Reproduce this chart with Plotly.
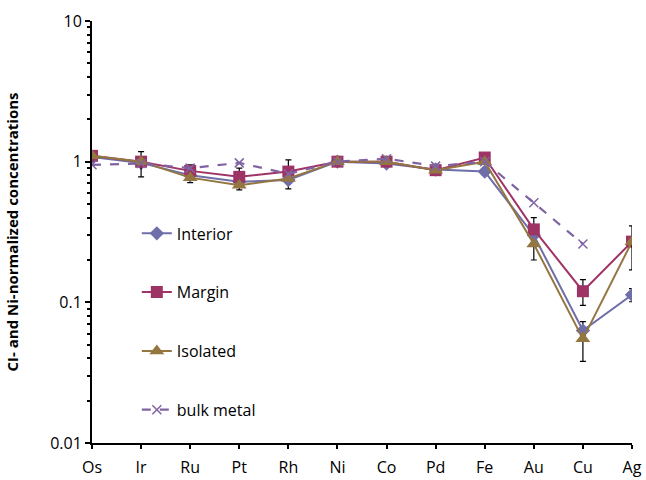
import plotly.graph_objects as go

elements = ["Os", "Ir", "Ru", "Pt", "Rh", "Ni", "Co", "Pd", "Fe", "Au", "Cu", "Ag"]

interior = [1.08, 0.98, 0.80, 0.72, 0.74, 1.00, 0.97, 0.88, 0.85, 0.30, 0.063, 0.113]
interior_err_plus = [0.10, 0, 0.15, 0, 0.29, 0, 0, 0, 0, 0, 0.010, 0.012]
interior_err_minus = [0.08, 0, 0.09, 0, 0.10, 0, 0, 0, 0, 0, 0.005, 0.012]

margin = [1.10, 1.00, 0.86, 0.78, 0.85, 1.00, 1.00, 0.87, 1.07, 0.33, 0.120, 0.27]
margin_err_plus = [0, 0.18, 0, 0.12, 0, 0, 0, 0, 0, 0.07, 0.025, 0]
margin_err_minus = [0, 0.22, 0, 0, 0, 0, 0, 0, 0, 0, 0.025, 0]

isolated = [1.10, 1.00, 0.77, 0.68, 0.76, 1.00, 1.00, 0.87, 1.00, 0.26, 0.055, 0.27]
isolated_err_plus = [0, 0, 0, 0, 0, 0, 0, 0, 0, 0, 0, 0.08]
isolated_err_minus = [0, 0, 0, 0.05, 0, 0, 0, 0, 0, 0.06, 0.017, 0.10]

bulk = [0.95, 0.97, 0.90, 0.98, 0.82, 1.00, 1.05, 0.93, 1.00, 0.51, 0.26, None]

FONT = "Open Sans"

def err(plus, minus):
    return dict(type="data", symmetric=False, array=plus, arrayminus=minus,
                color="black", thickness=1.2, width=3)

fig = go.Figure()
fig.add_trace(go.Scatter(
    x=elements, y=interior, name="Interior", mode="lines+markers",
    line=dict(color="#6E6EA8", width=2),
    marker=dict(symbol="diamond", size=11, color="#6E6EA8"),
    error_y=err(interior_err_plus, interior_err_minus), legendgroup="a"))
fig.add_trace(go.Scatter(
    x=elements, y=margin, name="Margin", mode="lines+markers",
    line=dict(color="#9E3366", width=2),
    marker=dict(symbol="square", size=12, color="#9E3366"),
    error_y=err(margin_err_plus, margin_err_minus), legendgroup="b"))
fig.add_trace(go.Scatter(
    x=elements, y=isolated, name="Isolated", mode="lines+markers",
    line=dict(color="#947640", width=2),
    marker=dict(symbol="triangle-up", size=13, color="#947640"),
    error_y=err(isolated_err_plus, isolated_err_minus), legendgroup="c"))
fig.add_trace(go.Scatter(
    x=elements, y=bulk, name="bulk metal", mode="lines+markers",
    line=dict(color="#8064A2", width=2.2, dash="dash"),
    marker=dict(symbol="x-thin", size=9, line=dict(color="#8064A2", width=1.5)),
    legendgroup="d"))

fig.update_layout(
    width=646, height=480,
    margin=dict(l=92, r=14, t=21, b=37),
    paper_bgcolor="white", plot_bgcolor="white",
    font=dict(family=FONT, size=16, color="black"),
    legend=dict(x=0.083, y=0.537, xanchor="left", yanchor="top",
                bgcolor="rgba(0,0,0,0)", tracegroupgap=35,
                font=dict(family=FONT, size=16)),
    xaxis=dict(type="category", range=[0, 11], showline=True, linecolor="black",
               linewidth=2, ticks="outside", ticklen=4, tickcolor="black",
               tickwidth=2, showgrid=False, zeroline=False, ticklabelstandoff=5,
               automargin=False, tickfont=dict(family=FONT, size=16)),
    yaxis=dict(type="log", range=[-2, 1], showline=True, linecolor="black",
               linewidth=2, ticks="outside", ticklen=5, tickcolor="black",
               tickwidth=2, showgrid=False, zeroline=False, dtick=1,
               automargin=False,
               minor=dict(ticks="outside", ticklen=3, tickcolor="black", tickwidth=2,
                          dtick="D1", showgrid=False),
               title=dict(text="<b>CI- and Ni-normalized concentrations</b>",
                          font=dict(family=FONT, size=15), standoff=28),
               tickfont=dict(family=FONT, size=16)),
)

fig.write_html("out.html")
